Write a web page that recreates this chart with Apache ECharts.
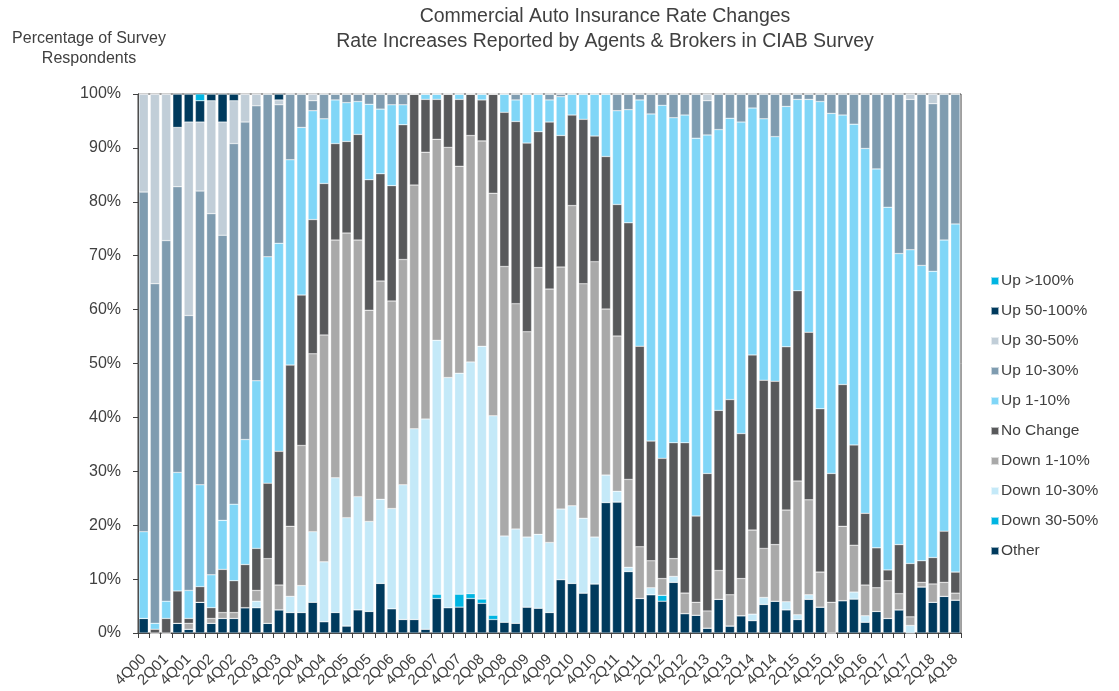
<!DOCTYPE html>
<html>
<head>
<meta charset="utf-8">
<script src="https://cdn.jsdelivr.net/npm/echarts@6/dist/echarts.min.js"></script>
<style>
  html, body { margin: 0; padding: 0; background: #fff; }
  #chart { width: 1119px; height: 691px; }
</style>
</head>
<body>
<div id="chart"></div>
<script>
// Survey quarters, 4Q00 through 4Q18
const quarters = [];
(function () {
  quarters.push('4Q00');
  for (let y = 1; y <= 18; y++) {
    const yy = String(y).padStart(2, '0');
    for (let q = 1; q <= 4; q++) quarters.push(q + 'Q' + yy);
  }
})();

// Share of respondents (%) per response bucket, one value per quarter
const other = [2.7,0,0,1.8,0.7,5.7,1.8,2.7,2.7,4.7, 4.7,1.8,4.3,3.8,3.8,5.7,2.1,3.8,1.3,4.3, 4.0,9.2,4.5,2.5,2.5,0.7,6.4,4.7,4.8,6.4, 5.5,2.5,2.0,1.8,4.8,4.6,3.8,9.9,9.2,7.4, 9.1,24.2,24.3,11.4,6.4,7.1,5.9,9.4,3.6,3.3, 0.9,6.25,1.3,3.2,2.3,5.3,5.9,4.3,2.5,6.25, 4.8,0,6.0,6.3,2.0,4.0,2.7,4.3,0,8.55, 5.7,6.8,6.1];
const down30to50 = [0,0,0,0,0,0,0,0,0,0, 0,0,0,0,0,0,0,0,0,0, 0,0,0,0,0,0,0.8,0,2.4,0.9, 0.8,0.8,0,0,0,0,0,0,0,0, 0,0,0,0,0,0,1.1,0,0,0, 0,0,0,0,0,0,0,0,0,0, 0,0,0,0,0,0,0,0,0,0, 0,0,0];
const down10to30 = [0,0,0,0,0,0,0,0,0,0, 1.2,0,0,3.0,5.0,13.1,11.1,25,20.1,21, 16.7,15.6,18.6,25,35.4,39,47.1,42.7,41,43, 46.9,37,16,17.5,13,13.7,13,13.1,14.4,13.9, 8.7,5.1,2,0.8,0,1.3,0,1.1,0,0, 0,0,0,0,1.2,1.3,0,1.5,0.9,0.85, 0,0,0,1.3,1.2,0,0,0,1.4,0, 0,0,0];
const down1to10 = [0,0,0,0,1.1,0,0.9,1.1,1.1,0, 2.0,12,4.6,13,26,33,42.1,44.1,52.8,47.6, 39.2,40.5,38.5,41.8,45.2,49.5,37.3,42.7,38.4,42, 38.1,41.3,50,41.8,38.1,49.5,47,44.9,55.7,43.5, 51.1,30.8,28.8,16.3,9.6,5,3.1,3.3,3.8,2.4, 3.2,5.35,5.8,6.9,15.6,9.1,10.5,17,24.8,17.6, 6.5,5.7,13.8,8.7,5.7,4.4,7.0,3.0,1.6,0.85, 3.4,2.6,1.3];
const noChange = [0,0.7,2.7,6.0,0.9,2.9,2.0,8.0,5.9,8.0, 7.8,14,24.8,29.9,27.9,24.9,28.1,17.9,17,19.6, 24.2,19.9,21.4,25,16.9,9.8,7.4,9.9,12.4,7.7, 7.6,18.4,28.6,33.8,35,25.2,31,24.4,16.8,30.5, 23.3,28.3,24.4,47.6,37.2,22.2,22.3,21.5,27.9,16, 25.5,29.7,36.2,26.9,32.5,31.2,30.3,30.3,35.3,31.1, 30.3,23.9,26.3,18.6,13.3,7.4,2.0,9.1,9.9,4, 4.9,9.5,3.9];
const up1to10 = [16.1,1.1,3.2,22,5.2,18.9,6.1,9.1,14.2,23.2, 31.1,42,38.6,38.1,31.1,20.2,12,8.1,7.2,6.1, 14,12,15,3.7,0,1.0,1.0,0,1.0,0, 1.1,0,3.4,4,9.1,7.0,4.1,7.2,3.9,4.7, 7.8,11.6,17.4,21,45.7,60.7,65.5,60.3,60.8,70.1, 62.8,52.1,52.2,57.8,45.8,48.5,45.4,44.6,35.5,43.2, 57,66.8,50,59.5,67.7,70.3,67.3,54,58.2,54.8, 53.1,54,64.6];
const up10to30 = [63,63,66.9,53,51,54.5,67,52.9,66.9,58.9, 51,30.2,25.7,12.2,6.2,1.85,4.6,1.1,1.6,1.4, 1.9,2.8,2.0,2.0,0,0,0,0,0,0, 0,0,0,1.1,0,0,1.1,0.5,0,0, 0,0,3.1,2.9,1.1,3.7,2.1,4.4,3.9,8.2, 6.35,6.6,4.5,5.2,2.6,4.6,7.9,2.3,1.0,1.0, 1.4,3.6,3.9,5.6,10.1,13.9,21,29.6,27.9,31.8, 31.1,27.1,24.1];
const up30to50 = [18.2,35.2,27.2,11,35.9,12.8,20.95,21,7.95,5.2, 2.2,0,0.9,0,0,1.25,0,0,0,0, 0,0,0,0,0,0,0,0,0,0, 0,0,0,0,0,0,0,0,0,0, 0,0,0,0,0,0,0,0,0,0, 1.25,0,0,0,0,0,0,0,0,0, 0,0,0,0,0,0,0,0,1.0,0, 1.8,0,0];
const up50to100 = [0,0,0,6.2,5.2,3.95,1.25,5.2,1.25,0, 0,0,1.1,0,0,0,0,0,0,0, 0,0,0,0,0,0,0,0,0,0, 0,0,0,0,0,0,0,0,0,0, 0,0,0,0,0,0,0,0,0,0, 0,0,0,0,0,0,0,0,0,0, 0,0,0,0,0,0,0,0,0,0, 0,0,0];
const upOver100 = [0,0,0,0,0,1.25,0,0,0,0, 0,0,0,0,0,0,0,0,0,0, 0,0,0,0,0,0,0,0,0,0, 0,0,0,0,0,0,0,0,0,0, 0,0,0,0,0,0,0,0,0,0, 0,0,0,0,0,0,0,0,0,0, 0,0,0,0,0,0,0,0,0,0, 0,0,0];

const yTicks = [0, 10, 20, 30, 40, 50, 60, 70, 80, 90, 100];

// Stack order, bottom to top
const buckets = [
  { name: 'Other',        data: other,       color: '#003A5D' },
  { name: 'Down 30-50%',  data: down30to50,  color: '#00B5E2' },
  { name: 'Down 10-30%',  data: down10to30,  color: '#C4E9F8' },
  { name: 'Down 1-10%',   data: down1to10,   color: '#A9A9A9' },
  { name: 'No Change',    data: noChange,    color: '#58595B' },
  { name: 'Up 1-10%',     data: up1to10,     color: '#80D6F7' },
  { name: 'Up 10-30%',    data: up10to30,    color: '#7F9CB0' },
  { name: 'Up 30-50%',    data: up30to50,    color: '#C1CED8' },
  { name: 'Up 50-100%',   data: up50to100,   color: '#003A5D' },
  { name: 'Up >100%',     data: upOver100,   color: '#00B5E2' }
];

const FONT = 'Liberation Sans, Arial, sans-serif';
const TEXT = '#404040';

const chart = echarts.init(document.getElementById('chart'), null, { renderer: 'canvas' });
chart.setOption({
  animation: false,
  backgroundColor: '#ffffff',
  textStyle: { fontFamily: FONT, color: TEXT },
  title: [
    {
      text: 'Commercial Auto Insurance Rate Changes\nRate Increases Reported by Agents & Brokers in CIAB Survey',
      left: 600, top: -1, textAlign: 'center',
      textStyle: { fontFamily: FONT, fontSize: 19.5, fontWeight: 'normal', color: TEXT, lineHeight: 25 }
    },
    {
      text: 'Percentage of Survey\nRespondents',
      left: 84, top: 24, textAlign: 'center',
      textStyle: { fontFamily: FONT, fontSize: 16, fontWeight: 'normal', color: TEXT, lineHeight: 20 }
    }
  ],
  legend: {
    orient: 'vertical',
    left: 985, top: 268,
    itemWidth: 8, itemHeight: 8, itemGap: 14,
    icon: 'rect',
    data: buckets.slice().reverse().map(b => b.name),
    textStyle: { fontFamily: FONT, fontSize: 15.5, color: TEXT, padding: [0, 0, 0, -3] }
  },
  grid: {
    left: 138, right: 158, top: 94, bottom: 58,
    show: true, borderColor: '#404040', borderWidth: 1, backgroundColor: 'transparent'
  },
  xAxis: {
    type: 'category',
    data: quarters,
    axisLine: { lineStyle: { color: '#404040', width: 1 } },
    axisTick: { show: true, interval: 0, length: 5, lineStyle: { color: '#404040' } },
    axisLabel: { interval: 1, rotate: 45, fontFamily: FONT, fontSize: 15, color: TEXT, margin: 24 }
  },
  yAxis: {
    type: 'value',
    min: yTicks[0], max: yTicks[yTicks.length - 1], interval: 10,
    splitLine: { show: false },
    axisLine: { show: true, lineStyle: { color: '#404040', width: 1 } },
    axisTick: { show: true, length: 5, lineStyle: { color: '#404040' } },
    axisLabel: { formatter: '{value}%', fontFamily: FONT, fontSize: 16, color: TEXT, margin: 17 }
  },
  series: buckets.map(b => ({
    name: b.name,
    type: 'bar',
    stack: 'share',
    data: b.data,
    barCategoryGap: '18%',
    itemStyle: { color: b.color, borderColor: 'rgba(255,255,255,0.6)', borderWidth: 0.5 },
    emphasis: { disabled: true }
  }))
});
</script>
</body>
</html>
